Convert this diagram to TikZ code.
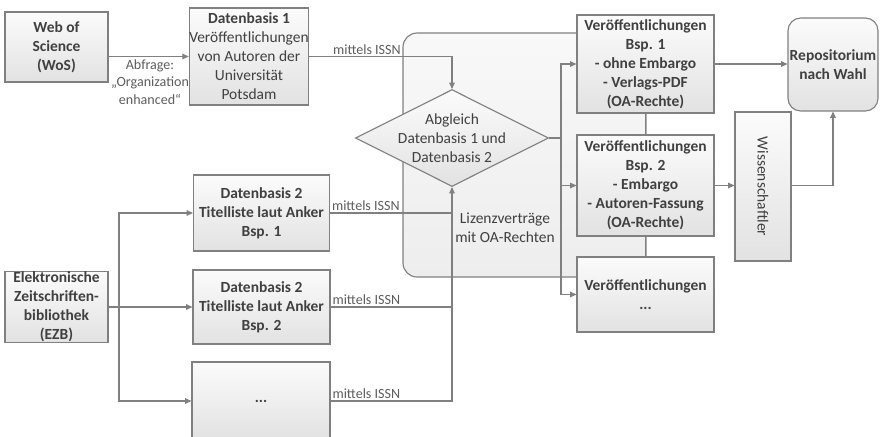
\documentclass[tikz,border=0pt]{standalone}
\usepackage{fontspec}
\setmainfont{Carlito}
\usetikzlibrary{shapes.geometric,arrows.meta}
\definecolor{linegray}{HTML}{808080}
\definecolor{textgray}{HTML}{404040}
\definecolor{boxgray}{HTML}{E2E2E2}
\tikzset{
    box/.style={draw=linegray, line width=0.8pt, top color=gray!3, bottom color=boxgray,
        text=textgray, align=center, inner sep=0pt, font=\fontsize{11}{13.5}\selectfont},
    boldbox/.style={box, font=\fontsize{11}{13.5}\selectfont\bfseries},
    sz/.style 2 args={minimum width=#1*0.025cm, minimum height=#2*0.025cm},
    conn/.style={draw=linegray, line width=0.8pt},
    arr/.style={conn, -{Triangle[length=4.5pt,width=4pt]}},
    lbl/.style={text=textgray!85, font=\fontsize{10}{12.5}\selectfont, inner sep=1pt, align=center},
}
\begin{document}
\begin{tikzpicture}[x=0.025cm, y=-0.025cm]
    \useasboundingbox (0,0) rectangle (880,436);
    \clip (0,0) rectangle (880,436);
    % region
    \node [box, rounded corners=10pt, sz={243}{244}, top color=gray!5, bottom color=gray!14] (liz) at (524.5,155) {};
    \node [text=textgray, align=center, font=\fontsize{11}{13.5}\selectfont] (liztext) at (505,228) {Lizenzverträge\\mit OA-Rechten};
    % sources
    \node [boldbox, sz={103}{70}] (wos) at (56.5,47) {Web of\\Science\\(WoS)};
    \node [box, sz={108}{97}] (db1) at (249,56.5) {\textbf{Datenbasis 1}\\Veröffentlichungen\\von Autoren der\\Universität\\Potsdam};
    \node [boldbox, sz={103}{70}] (ezb) at (56.5,307) {Elektronische\\Zeitschriften-\\bibliothek\\(EZB)};
    \node [boldbox, sz={136}{76}] (db2a) at (261.5,213) {Datenbasis 2\\Titelliste laut Anker\\Bsp. 1};
    \node [boldbox, sz={137}{74}] (db2b) at (261.5,307) {Datenbasis 2\\Titelliste laut Anker\\Bsp. 2};
    \node [boldbox, sz={138}{78}] (db2c) at (261,401) {...};
    % comparison
    \node [box, diamond, sz={193}{97}] (abgl) at (452,138) {};
    \node [text=textgray, align=center, font=\fontsize{11}{13.5}\selectfont] (abgltext) at (abgl) {Abgleich\\Datenbasis 1 und\\Datenbasis 2};
    % results
    \node [boldbox, sz={137}{98}] (vo1) at (645.5,64) {Veröffentlichungen\\Bsp. 1\\- ohne Embargo\\- Verlags-PDF\\(OA-Rechte)};
    \node [boldbox, sz={137}{101}] (vo2) at (645.5,185.5) {Veröffentlichungen\\Bsp. 2\\- Embargo\\- Autoren-Fassung\\(OA-Rechte)};
    \node [boldbox, sz={137}{75}] (vo3) at (645.5,294.5) {Veröffentlichungen\\...};
    \node [box, sz={56}{149}] (wiss) at (763,186.5) {\rotatebox{-90}{Wissenschaftler}};
    \node [boldbox, rounded corners=9pt, sz={90}{93}] (repo) at (833,64.5) {Repositorium\\nach Wahl};
    % connectors
    \draw [arr] (wos.east |- db1.west) -- (db1.west);
    \node [lbl] (abfrage) at (150,82) {Abfrage:\\„Organization\\enhanced“};
    \draw [arr] (db1.east) -| (abgl.north);
    \node [lbl, anchor=south east] at (liz.west |- db1.east) {mittels ISSN};
    \coordinate (ezbbus) at (119,307);
    \draw [arr] (ezb.east) -- (db2b.west);
    \draw [arr] (ezbbus) |- (db2a.west);
    \draw [arr] (ezbbus) |- (db2c.west);
    \draw [conn] (db2a.east) -- node [lbl, pos=0, anchor=south west] {mittels ISSN} (db2a.east -| abgl.south);
    \draw [conn] (db2b.east) -- node [lbl, pos=0, anchor=south west] {mittels ISSN} (db2b.east -| abgl.south);
    \draw [arr] (db2c.east) -- node [lbl, pos=0, anchor=south west] {mittels ISSN} (db2c.east -| abgl.south) -- (abgl.south);
    \coordinate (vobus) at (561,138);
    \draw [conn] (abgl.east) -- (vobus);
    \draw [arr] (vobus) |- (vo1.west);
    \draw [arr] (vobus) |- (vo2.west);
    \draw [arr] (vobus) |- (vo3.west);
    \draw [conn] (vo1.south) -- (vo2.north);
    \draw [conn] (vo2.south) -- (vo3.north);
    \draw [arr] (vo1.east) -- (vo1.east -| repo.west);
    \draw [arr] (vo2.east) -- (vo2.east -| wiss.west);
    \draw [arr] (wiss.east |- vo2.east) -| (repo.south);
\end{tikzpicture}
\end{document}
